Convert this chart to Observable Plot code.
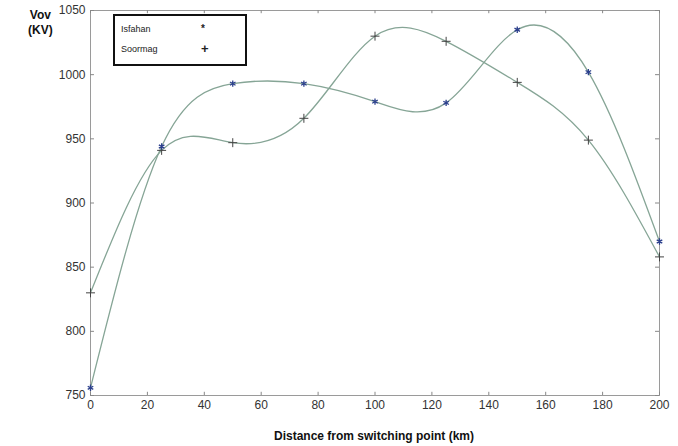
<!DOCTYPE html>
<html>
<head>
<meta charset="utf-8">
<script src="https://cdn.jsdelivr.net/npm/d3@7"></script>
<script src="https://cdn.jsdelivr.net/npm/@observablehq/plot@0.6"></script>
<style>
  html, body { margin: 0; padding: 0; background: #fff; }
  #wrap { position: relative; width: 678px; height: 446px; font-family: "Liberation Sans", Arial, sans-serif; }
  #ylab { position: absolute; left: 28px; top: 8px; font-weight: bold; font-size: 12px; line-height: 15px; color: #111; text-align: center; }
  #xlab { position: absolute; left: 0; width: 678px; top: 429px; text-align: center; padding-left: 70px; box-sizing: border-box; font-weight: bold; font-size: 12px; color: #111; }
  #legend { position: absolute; left: 113px; top: 14px; width: 130px; height: 48px; border: 2px solid #111; background: #fff; font-size: 9px; color: #222; }
  #legend div { position: absolute; left: 6px; }
  #legend span { position: absolute; left: 80px; font-weight: bold; }
</style>
</head>
<body>
<div id="wrap">
  <div id="chart"></div>
  <div id="ylab">Vov<br>(KV)</div>
  <div id="xlab">Distance from switching point (km)</div>
  <div id="legend">
    <div style="top:8px">Isfahan<span style="top:-1px;font-size:10px">*</span></div>
    <div style="top:28px">Soormag<span style="top:-3px;font-size:13px">+</span></div>
  </div>
</div>
<script>
const distance = [0, 25, 50, 75, 100, 125, 150, 175, 200];
const isfahan  = [756, 944, 993, 993, 979, 978, 1035, 1002, 870];
const soormag  = [830, 941, 947, 966, 1030, 1026, 994, 949, 858];
const xTicks = [0, 20, 40, 60, 80, 100, 120, 140, 160, 180, 200];
const yTicks = [750, 800, 850, 900, 950, 1000, 1050];

const isf = distance.map((d, i) => ({x: d, y: isfahan[i]}));
const soo = distance.map((d, i) => ({x: d, y: soormag[i]}));

const lineColor = "#86a596";

const chart = Plot.plot({
  width: 678,
  height: 446,
  marginLeft: 90,
  marginRight: 19,
  marginTop: 10,
  marginBottom: 51,
  style: {fontFamily: "Liberation Sans, Arial, sans-serif", fontSize: "12px", color: "#333", background: "#fff"},
  x: {domain: [0, 200]},
  y: {domain: [750, 1050]},
  marks: [
    Plot.frame({stroke: "#9a9a9a", strokeWidth: 1}),
    Plot.axisX({ticks: xTicks, tickSize: 0, tickPadding: 5, tickFormat: "d", label: null, fontSize: 12, fill: "#333"}),
    Plot.axisY({ticks: yTicks, tickSize: 0, tickPadding: 5, tickFormat: "d", label: null, fontSize: 12, fill: "#333"}),
    Plot.ruleX(xTicks, {x: d => d, y1: 750, y2: 752.5, stroke: "#888"}),
    Plot.ruleX(xTicks, {x: d => d, y1: 1050, y2: 1047.5, stroke: "#888"}),
    Plot.ruleY(yTicks, {y: d => d, x1: 0, x2: 1.4, stroke: "#888"}),
    Plot.ruleY(yTicks, {y: d => d, x1: 200, x2: 198.6, stroke: "#888"}),
    Plot.line(isf, {x: "x", y: "y", curve: "natural", stroke: lineColor, strokeWidth: 1.3}),
    Plot.line(soo, {x: "x", y: "y", curve: "natural", stroke: lineColor, strokeWidth: 1.3}),
    Plot.dot(soo, {x: "x", y: "y", symbol: "plus", r: 3, stroke: "#444", strokeWidth: 1}),
    Plot.dot(isf, {x: "x", y: "y", symbol: "asterisk", r: 3, stroke: "#2b3f8c", strokeWidth: 1.3})
  ]
});
document.getElementById("chart").appendChild(chart);
</script>
</body>
</html>
